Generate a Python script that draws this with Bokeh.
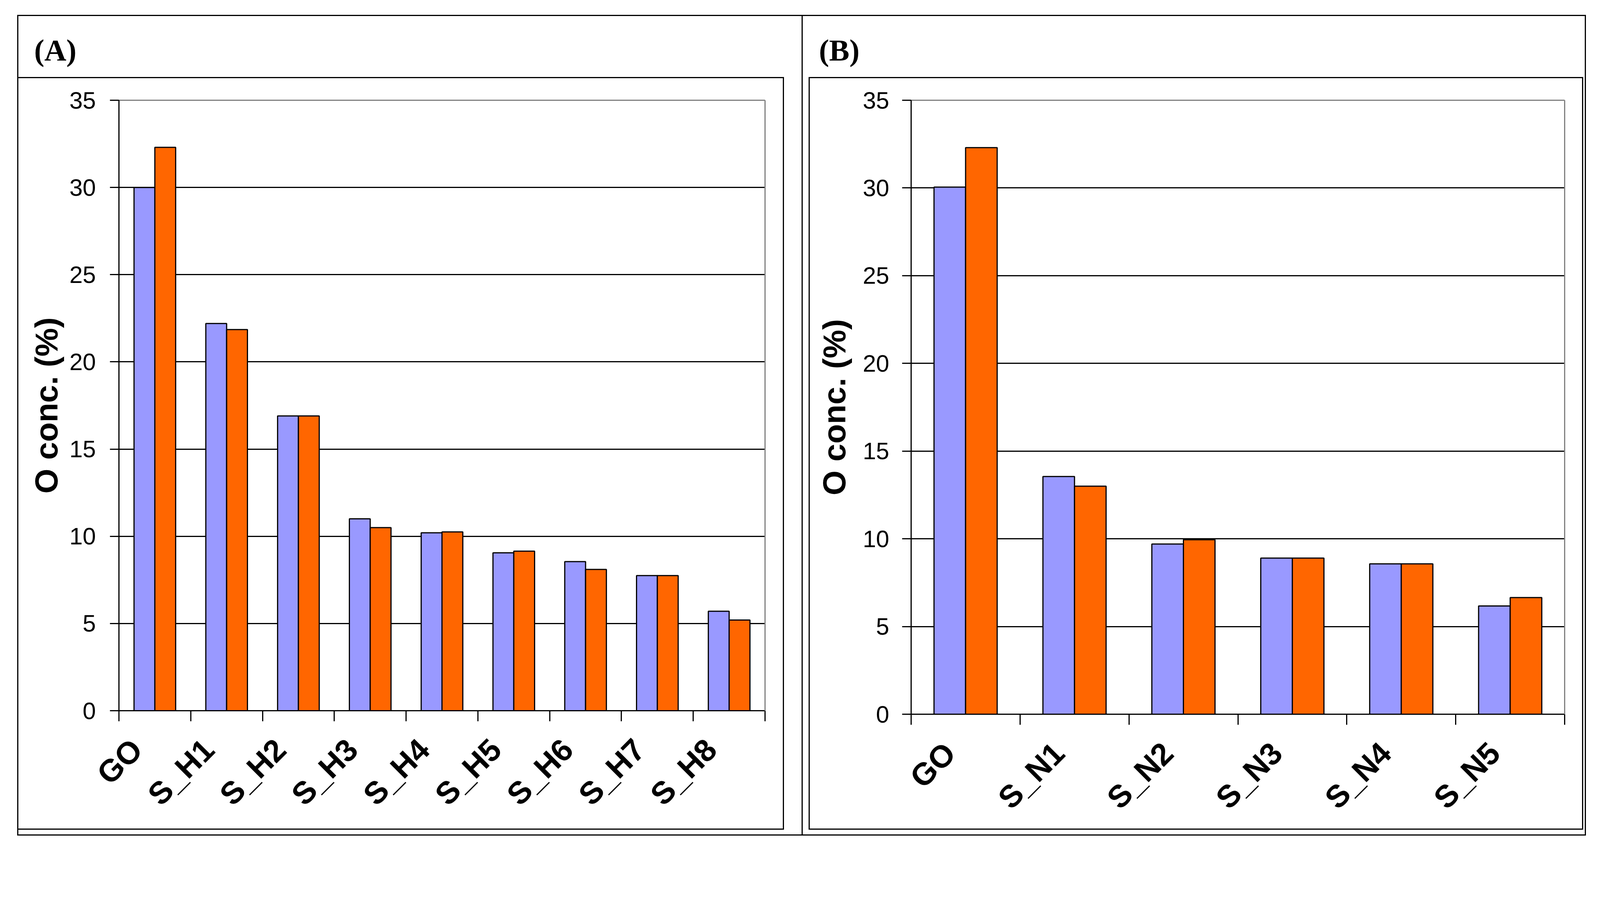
from math import pi

from bokeh.plotting import figure
from bokeh.layouts import row, column
from bokeh.models import (ColumnDataSource, Range1d, FixedTicker, LinearAxis, Label,
                          Div, Spacer)
from bokeh.transform import dodge
from bokeh.embed import file_html
from bokeh.resources import INLINE

# ---------------- data ----------------
categories_a = ["GO", "S_H1", "S_H2", "S_H3", "S_H4", "S_H5", "S_H6", "S_H7", "S_H8"]
blue_a = [30.0, 22.2, 16.9, 11.0, 10.2, 9.05, 8.55, 7.75, 5.7]
orange_a = [32.3, 21.85, 16.9, 10.5, 10.25, 9.15, 8.1, 7.75, 5.2]

categories_b = ["GO", "S_N1", "S_N2", "S_N3", "S_N4", "S_N5"]
blue_b = [30.05, 13.55, 9.7, 8.9, 8.57, 6.17]
orange_b = [32.3, 13.0, 9.95, 8.9, 8.57, 6.65]

y_ticks = [0, 5, 10, 15, 20, 25, 30, 35]
y_label = "O conc. (%)"
panel_tags = ["(A)", "(B)"]

BLUE = "#9999FF"
ORANGE = "#FF6600"
GRAY = "#808080"
SANS = "Liberation Sans"
SERIF = "Liberation Serif"
LW = 3  # frame line thickness


def line_div(w, h):
    return Div(text="", width=w, height=h, margin=0,
               styles={"background-color": "black", "padding": "0", "margin": "0",
                       "font-size": "0", "line-height": "0", "overflow": "hidden"})


def vline(h):
    return line_div(LW, h)


def hline(w):
    return line_div(w, LW)


def gap(w, h):
    return Spacer(width=w, height=h, margin=0)


def header(tag, width, height, tag_x):
    p = figure(width=width, height=height, output_backend="svg", toolbar_location=None,
               x_axis_type=None, y_axis_type=None, min_border=0,
               x_range=Range1d(0, 1), y_range=Range1d(0, 1))
    p.title.visible = False
    p.outline_line_color = None
    p.border_fill_color = "white"
    p.background_fill_color = "white"
    p.add_layout(Label(x=tag_x, y=69, x_units="screen", y_units="screen", text=tag,
                       text_font=SERIF, text_font_style="bold", text_font_size="78px",
                       text_color="black", text_align="left", text_baseline="middle"))
    return p


def chart(cats, s1, s2, width, height, mb_left, mb_right, mb_top, mb_bottom,
          ylab_standoff, ytick_standoff, label_shift_px):
    n = len(cats)
    xs = list(range(1, n + 1))
    src = ColumnDataSource(dict(x=xs, s1=s1, s2=s2))
    p = figure(width=width, height=height, output_backend="svg", toolbar_location=None,
               x_range=Range1d(0.5, n + 0.5), y_range=Range1d(y_ticks[0], y_ticks[-1]),
               min_border_left=mb_left, min_border_right=mb_right,
               min_border_top=mb_top, min_border_bottom=mb_bottom)
    p.title.visible = False
    p.outline_line_color = None
    p.background_fill_color = "white"
    p.border_fill_color = "white"

    p.vbar(x=dodge("x", -0.145), top="s1", width=0.29, source=src,
           fill_color=BLUE, line_color="black", line_width=3)
    p.vbar(x=dodge("x", 0.145), top="s2", width=0.29, source=src,
           fill_color=ORANGE, line_color="black", line_width=3)

    p.xgrid.visible = False
    p.ygrid.ticker = FixedTicker(ticks=y_ticks[1:-1])
    p.ygrid.grid_line_color = "black"
    p.ygrid.grid_line_width = 3

    # x axis: boundary ticks (minor), labels slightly left of category centres
    frame_w = width - mb_left - mb_right
    shift = label_shift_px / (frame_w / n)
    label_pos = [x - shift for x in xs]
    xa = p.xaxis[0]
    xa.ticker = FixedTicker(ticks=label_pos, minor_ticks=[i + 0.5 for i in range(n + 1)])
    xa.major_label_overrides = {pos: c for pos, c in zip(label_pos, cats)}
    xa.major_label_orientation = pi / 4
    xa.major_tick_in = 0
    xa.major_tick_out = 0
    xa.major_tick_line_color = None
    xa.minor_tick_in = 0
    xa.minor_tick_out = 27
    xa.minor_tick_line_color = "black"
    xa.minor_tick_line_width = 3
    xa.axis_line_color = "black"
    xa.axis_line_width = 3
    xa.major_label_text_font = SANS
    xa.major_label_text_font_style = "bold"
    xa.major_label_text_font_size = "80px"
    xa.major_label_text_color = "black"
    xa.major_label_standoff = 59

    ya = p.yaxis[0]
    ya.ticker = FixedTicker(ticks=y_ticks)
    ya.major_tick_in = 0
    ya.major_tick_out = 23
    ya.major_tick_line_width = 3
    ya.major_tick_line_color = "black"
    ya.minor_tick_line_color = None
    ya.axis_line_color = "black"
    ya.axis_line_width = 3
    ya.major_label_text_font = SANS
    ya.major_label_text_font_size = "61px"
    ya.major_label_text_color = "black"
    ya.major_label_standoff = ytick_standoff
    ya.axis_label = y_label
    ya.axis_label_text_font = SANS
    ya.axis_label_text_font_style = "bold"
    ya.axis_label_text_font_size = "82px"
    ya.axis_label_text_color = "black"
    ya.axis_label_standoff = ylab_standoff

    for side in ("above", "right"):
        ax = LinearAxis(ticker=FixedTicker(ticks=[]), axis_line_color=GRAY, axis_line_width=3,
                        major_tick_line_color=None, minor_tick_line_color=None)
        p.add_layout(ax, side)
    return p


# ---------------- layout (pixel grid) ----------------
TOP_PAD = 38
LEFT_PAD = 44
CELL_H = 2094
HEAD_H = 156
CHART_H = 1920
BOTTOM_GAP = CELL_H - HEAD_H - LW - CHART_H - LW   # 12

# cell A
A_W = 2005
A_BOX_W = 1957
A_GAP = A_W - A_BOX_W - LW                          # 45
head_a = header(panel_tags[0], A_W, HEAD_H, tag_x=40)
chart_a = chart(categories_a, blue_a, orange_a, A_BOX_W, CHART_H,
                mb_left=257, mb_right=46, mb_top=56, mb_bottom=302,
                ylab_standoff=11, ytick_standoff=36, label_shift_px=46)
cell_a = column(
    head_a,
    row(hline(A_BOX_W + LW), gap(A_GAP, LW)),
    row(chart_a, vline(CHART_H), gap(A_GAP, CHART_H)),
    row(hline(A_BOX_W + LW), gap(A_GAP, LW)),
    gap(A_W, BOTTOM_GAP),
)

# cell B
B_W = 2002
B_LEFT = 15
B_BOX_W = 1977
B_RIGHT = B_W - B_LEFT - LW - B_BOX_W - LW          # 4
head_b = header(panel_tags[1], B_W, HEAD_H, tag_x=41)
chart_b = chart(categories_b, blue_b, orange_b, B_BOX_W, CHART_H,
                mb_left=259, mb_right=45, mb_top=56, mb_bottom=284,
                ylab_standoff=25, ytick_standoff=33, label_shift_px=40)
cell_b = column(
    head_b,
    row(gap(B_LEFT, LW), hline(B_BOX_W + 2 * LW), gap(B_RIGHT, LW)),
    row(gap(B_LEFT, CHART_H), vline(CHART_H), chart_b, vline(CHART_H), gap(B_RIGHT, CHART_H)),
    row(gap(B_LEFT, LW), hline(B_BOX_W + 2 * LW), gap(B_RIGHT, LW)),
    gap(B_W, BOTTOM_GAP),
)

TABLE_W = LW + A_W + LW + B_W + LW
table = column(
    hline(TABLE_W),
    row(vline(CELL_H), cell_a, vline(CELL_H), cell_b, vline(CELL_H)),
    hline(TABLE_W),
)

root = column(
    gap(LEFT_PAD + TABLE_W, TOP_PAD),
    row(gap(LEFT_PAD, CELL_H + 2 * LW), table),
)

open("out.html", "w").write(file_html(root, INLINE))
